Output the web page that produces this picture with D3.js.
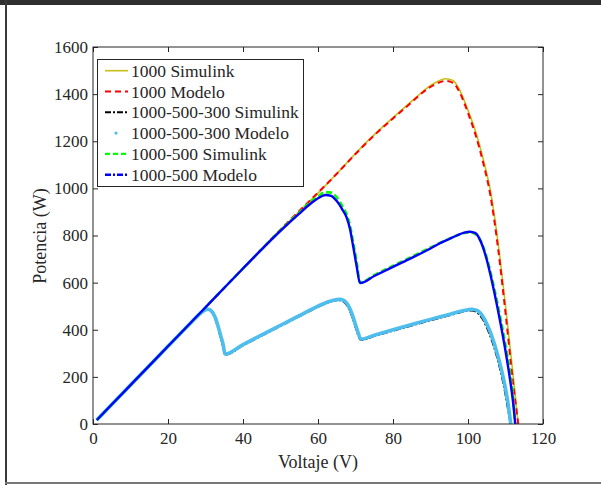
<!DOCTYPE html>
<html>
<head>
<meta charset="utf-8">
<script src="https://cdn.jsdelivr.net/npm/d3@7"></script>
<style>
  body { margin: 0; background: white; }
</style>
</head>
<body>
<div id="chart"></div>
<script>
const FONT = "'Liberation Serif', 'Times New Roman', 'DejaVu Serif', serif";

// Tick labels
const xTicks = [0, 20, 40, 60, 80, 100, 120];
const yTicks = [0, 200, 400, 600, 800, 1000, 1200, 1400, 1600];

// Curve 1000 W/m2 (voltage, power)
const v1000 = [1, 10, 20, 30, 40, 50, 55, 60, 65, 70, 75, 80, 85, 88, 91, 94, 96, 98, 100, 102, 104, 106, 108, 110, 112, 113.4];
const p1000Sim = [17, 165, 330, 495, 660, 825, 902, 980, 1062, 1148, 1228, 1300, 1370, 1412, 1446, 1465, 1458, 1410, 1332, 1242, 1128, 988, 772, 502, 212, 0];
const p1000Mod = [17, 165, 330, 495, 660, 825, 904, 982, 1062, 1146, 1225, 1297, 1366, 1408, 1440, 1456, 1448, 1400, 1320, 1228, 1112, 968, 748, 472, 178, 0];

// Curve 1000-500-300
const v3 = [1, 10, 20, 26, 28, 29.5, 30.7, 31.8, 32.6, 33.4, 34.1, 34.7, 35.2, 40, 45, 50, 55, 60, 63, 65, 66, 67, 68, 69, 70, 70.7, 71.4, 75, 80, 85, 90, 95, 98, 100, 101, 102.5, 104, 105, 106.3, 107.6, 109, 109.9, 110.7, 111.4];
const p3Sim = [17, 165, 330, 428, 460, 479, 486, 472, 446, 405, 362, 328, 294, 334, 375, 416, 457, 497, 517, 525, 525, 517, 497, 460, 412, 378, 356, 373, 396, 418, 440, 461, 474, 481, 482, 472, 443, 410, 358, 292, 204, 134, 60, 0];
const p3Mod = [17, 165, 330, 428, 460, 480, 487, 476, 452, 413, 372, 338, 297, 337, 378, 419, 460, 500, 520, 528, 529, 523, 505, 470, 422, 388, 360, 377, 400, 422, 444, 465, 478, 485, 487, 481, 455, 425, 375, 310, 225, 158, 85, 0];

// Curve 1000-500
const v2 = [1, 10, 20, 30, 40, 50, 55, 58, 60, 62, 63.5, 65, 66.5, 67.6, 68.5, 69.4, 70.3, 71.2, 75, 80, 85, 90, 92.5, 95, 97, 99, 100.5, 102, 103, 104, 105, 106, 107, 108.5, 110, 111.2, 112, 112.6];
const p2Sim = [17, 165, 330, 495, 660, 822, 897, 942, 966, 984, 982, 962, 925, 892, 845, 770, 690, 600, 632, 671, 710, 749, 768, 786, 800, 811, 813, 806, 788, 755, 706, 645, 576, 462, 335, 218, 120, 0];
const p2Mod = [17, 165, 330, 495, 660, 820, 893, 935, 958, 972, 968, 946, 910, 878, 830, 752, 670, 598, 628, 667, 705, 745, 767, 785, 800, 812, 816, 810, 788, 750, 697, 632, 560, 441, 310, 190, 95, 0];

const names = ["1000 Simulink", "1000 Modelo", "1000-500-300 Simulink", "1000-500-300 Modelo", "1000-500 Simulink", "1000-500 Modelo"];

const series = [
  { name: names[0], v: v1000, p: p1000Sim, color: "#c8bf1a", width: 1.6, dash: null, legendDash: null },
  { name: names[1], v: v1000, p: p1000Mod, color: "#ff0000", width: 2, dash: "6,4", legendDash: "6,4" },
  { name: names[2], v: v3, p: p3Sim, color: "#000000", width: 2, dash: "7,2,2,2", legendDash: "6,2,2,2" },
  { name: names[3], v: v3, p: p3Mod, color: "#4dbeee", width: 3.6, dash: null, legendDash: "dot" },
  { name: names[4], v: v2, p: p2Sim, color: "#00ff00", width: 2.6, dash: "6,3", legendDash: "5,3" },
  { name: names[5], v: v2, p: p2Mod, color: "#0000ff", width: 2.4, dash: null, legendDash: "6,2,2,2" }
];

const width = 601;
const height = 485;

const svg = d3.select("#chart").append("svg")
  .attr("width", width)
  .attr("height", height)
  .style("font-family", FONT);

// window frame
svg.append("rect").attr("x", 0).attr("y", 0).attr("width", width).attr("height", 5).attr("fill", "#2f2f2f");
svg.append("rect").attr("x", 5).attr("y", 0).attr("width", 2).attr("height", height).attr("fill", "#3a3a3a");
svg.append("rect").attr("x", 5).attr("y", 482).attr("width", width - 5).attr("height", 2).attr("fill", "#777");

const x = d3.scaleLinear().domain([0, 120]).range([93, 543]);
const y = d3.scaleLinear().domain([0, 1600]).range([424, 47]);

svg.append("defs").append("clipPath").attr("id", "clip")
  .append("rect")
  .attr("x", 93).attr("y", 47)
  .attr("width", 450).attr("height", 377);

// lines
const line = d3.line()
  .x(d => x(d[0]))
  .y(d => y(d[1]))
  .curve(d3.curveMonotoneX);

const plot = svg.append("g").attr("clip-path", "url(#clip)");
series.forEach(s => {
  plot.append("path")
    .datum(s.v.map((v, i) => [v, s.p[i]]))
    .attr("d", line)
    .attr("fill", "none")
    .attr("stroke", s.color)
    .attr("stroke-width", s.width)
    .attr("stroke-dasharray", s.dash)
    .attr("stroke-linejoin", "round");
});

// axes, ticks pointing inward on all sides
const styleAxis = g => {
  g.attr("font-family", null);
  g.select(".domain").remove();
  g.selectAll("line").attr("stroke", "#262626");
  g.selectAll("text")
    .style("font-family", FONT)
    .style("font-size", "17px")
    .attr("fill", "#262626");
};

svg.append("g").attr("transform", "translate(0,424)")
  .call(d3.axisBottom(x).tickValues(xTicks).tickFormat(d3.format("d")).tickSizeInner(-5).tickSizeOuter(0).tickPadding(8))
  .call(styleAxis);
svg.append("g").attr("transform", "translate(0,47)")
  .call(d3.axisTop(x).tickValues(xTicks).tickSizeInner(-5).tickSizeOuter(0).tickFormat(""))
  .call(styleAxis);
svg.append("g").attr("transform", "translate(93,0)")
  .call(d3.axisLeft(y).tickValues(yTicks).tickFormat(d3.format("d")).tickSizeInner(-5).tickSizeOuter(0).tickPadding(5))
  .call(styleAxis);
svg.append("g").attr("transform", "translate(543,0)")
  .call(d3.axisRight(y).tickValues(yTicks).tickSizeInner(-5).tickSizeOuter(0).tickFormat(""))
  .call(styleAxis);

svg.append("rect")
  .attr("x", 93).attr("y", 47)
  .attr("width", 450).attr("height", 377)
  .attr("fill", "none")
  .attr("stroke", "#262626")
  .attr("stroke-width", 1);

// axis labels
svg.append("text")
  .attr("x", 318).attr("y", 468)
  .attr("text-anchor", "middle")
  .style("font-size", "18px")
  .attr("fill", "#262626")
  .text("Voltaje (V)");

svg.append("text")
  .attr("transform", "translate(46,236) rotate(-90)")
  .attr("text-anchor", "middle")
  .style("font-size", "18px")
  .attr("fill", "#262626")
  .text("Potencia (W)");

// legend
const legend = svg.append("g");
legend.append("rect")
  .attr("x", 97.5).attr("y", 59.5)
  .attr("width", 206).attr("height", 127)
  .attr("fill", "white")
  .attr("stroke", "#262626")
  .attr("stroke-width", 1);

series.forEach((s, i) => {
  const cy = 70.7 + i * 20.8;
  if (s.legendDash === "dot") {
    legend.append("circle")
      .attr("cx", 116).attr("cy", cy)
      .attr("r", 1.6)
      .attr("fill", s.color);
  } else {
    legend.append("line")
      .attr("x1", 105).attr("x2", 128)
      .attr("y1", cy).attr("y2", cy)
      .attr("stroke", s.color)
      .attr("stroke-width", s.width > 2.5 ? 2.4 : s.width)
      .attr("stroke-dasharray", s.legendDash);
  }
  legend.append("text")
    .attr("x", 131).attr("y", cy)
    .attr("dy", "0.35em")
    .style("font-size", "17.5px")
    .attr("fill", "#262626")
    .text(s.name);
});
</script>
</body>
</html>
